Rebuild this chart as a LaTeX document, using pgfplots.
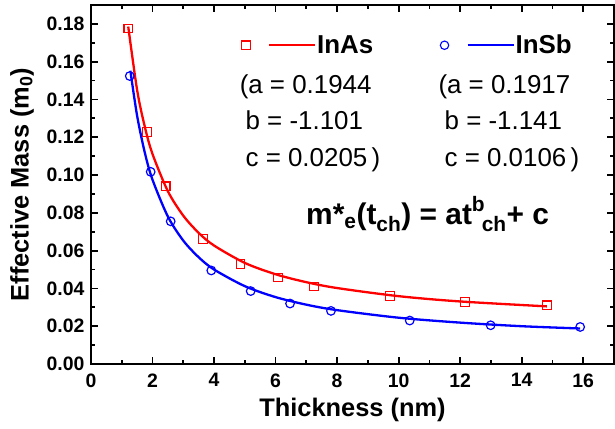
\documentclass[border=0pt]{standalone}
\usepackage{fontspec}
\setmainfont{Liberation Sans}
\usepackage{pgfplots}
\usepackage{pgfplotstable}
\pgfplotsset{compat=1.18}
\definecolor{fitred}{RGB}{255,0,0}
\definecolor{fitblue}{RGB}{0,0,255}

% measured points
\pgfplotstableread{
t m
1.21 0.1776
1.82 0.1227
2.43 0.0941
3.64 0.0662
4.86 0.0529
6.08 0.0458
7.25 0.0410
9.72 0.0359
12.16 0.0329
14.82 0.0311
}\inas
\pgfplotstableread{
t m
1.26 0.1524
1.94 0.1017
2.59 0.0755
3.91 0.0495
5.19 0.0386
6.47 0.0320
7.80 0.0281
10.36 0.0230
12.99 0.0205
15.90 0.0196
}\insb
% fitted curves
\pgfplotstableread{
t m
1.21 0.1786
1.5 0.1449
1.75 0.1255
2.0 0.1111
2.5 0.0914
3.0 0.0785
3.5 0.0694
4.0 0.0627
5.0 0.0535
6.0 0.0475
7.0 0.0433
8.0 0.0402
10.0 0.0359
12.0 0.0331
14.82 0.0305
}\inasfit
\pgfplotstableread{
t m
1.28 0.1552
1.5 0.1313
1.75 0.1118
2.0 0.0975
2.5 0.0780
3.0 0.0653
3.5 0.0565
4.0 0.0500
5.0 0.0412
6.0 0.0354
7.0 0.0314
8.0 0.0285
10.0 0.0245
12.0 0.0219
14.0 0.0200
15.9 0.0188
}\insbfit

\begin{document}
\begin{tikzpicture}
\begin{axis}[
  scale only axis, width=523bp, height=359bp,
  xmin=0, xmax=17, ymin=0, ymax=0.19,
  axis line style={line width=2.4bp},
  tick align=inside, tick pos=both,
  major tick length=7.5bp, minor tick length=4.5bp,
  tick style={line width=1.8bp, black},
  xtick={0,2,4,6,8,10,12,14,16}, minor x tick num=1,
  ytick={0,0.02,0.04,0.06,0.08,0.10,0.12,0.14,0.16,0.18}, minor y tick num=1,
  yticklabels={0.00,0.02,0.04,0.06,0.08,0.10,0.12,0.14,0.16,0.18},
  xticklabels={0,2,4,6,8,10,12,14,16},
  tick label style={font=\fontsize{19.5}{22}\selectfont\bfseries},
  yticklabel style={xshift=-3bp},
  xticklabel style={yshift=-6bp},
  xlabel={Thickness (nm)},
  ylabel={Effective Mass (m\textsubscript{0})},
  label style={font=\fontsize{25.5}{28}\selectfont\bfseries},
  xlabel style={at={(axis description cs:0.5,0)}, anchor=base, yshift=-52bp},
  ylabel style={at={(axis description cs:-0.132,0.5)}, anchor=center},
  legend columns=2,
  legend style={draw=none, fill=none, at={(axis cs:4.8,0.1687)}, anchor=west,
    font=\fontsize{26}{28}\selectfont\bfseries,
    nodes={inner sep=1bp},
    /tikz/every even column/.append style={column sep=66bp}},
  clip=false,
]
\addplot[fitred, line width=2.3bp, smooth, forget plot] table[x=t,y=m]{\inasfit};
\addplot[fitblue, line width=2.3bp, smooth, forget plot] table[x=t,y=m]{\insbfit};
\addplot[fitred, only marks, mark=square, mark size=4.3bp, line width=1.2bp,
  legend image code/.code={
    \draw[fitred, line width=1.1bp] plot[mark=square, mark size=4.2bp] coordinates {(0bp,0bp)};
    \draw[fitred, line width=2.3bp] (23bp,0bp) -- (69bp,0bp);}]
  table[x=t,y=m]{\inas};
\addlegendentry{InAs}
\addplot[fitblue, only marks, mark=o, mark size=4.3bp, line width=1.2bp,
  legend image code/.code={
    \draw[fitblue, line width=1.1bp] plot[mark=o, mark size=4.2bp] coordinates {(0bp,0bp)};
    \draw[fitblue, line width=2.3bp] (23bp,0bp) -- (69bp,0bp);}]
  table[x=t,y=m]{\insb};
\addlegendentry{InSb}

\begin{scope}[every node/.style={font=\fontsize{26}{28}\selectfont, anchor=base west, inner sep=0pt}]
\node at (axis cs:4.83,0.1432) {(a = 0.1944};
\node at (axis cs:5.02,0.1241) {b = -1.101};
\node at (axis cs:5.02,0.1047) {c = 0.0205\,)};
\node at (axis cs:11.29,0.1432) {(a = 0.1917};
\node at (axis cs:11.49,0.1241) {b = -1.141};
\node at (axis cs:11.49,0.1047) {c = 0.0106\,)};
\end{scope}
\node[anchor=base west, inner sep=0pt, font=\fontsize{30}{34}\selectfont\bfseries]
  at (axis cs:6.99,0.0737)
  {m*\textsubscript{e}(t\textsubscript{ch}) = at\raisebox{0.45em}{\fontsize{21}{22}\selectfont b}\kern-0.1em\textsubscript{ch}+ c};
\end{axis}
\pgfresetboundingbox
\useasboundingbox (-91bp,-65bp) rectangle (524bp,364bp);
\end{tikzpicture}
\end{document}
